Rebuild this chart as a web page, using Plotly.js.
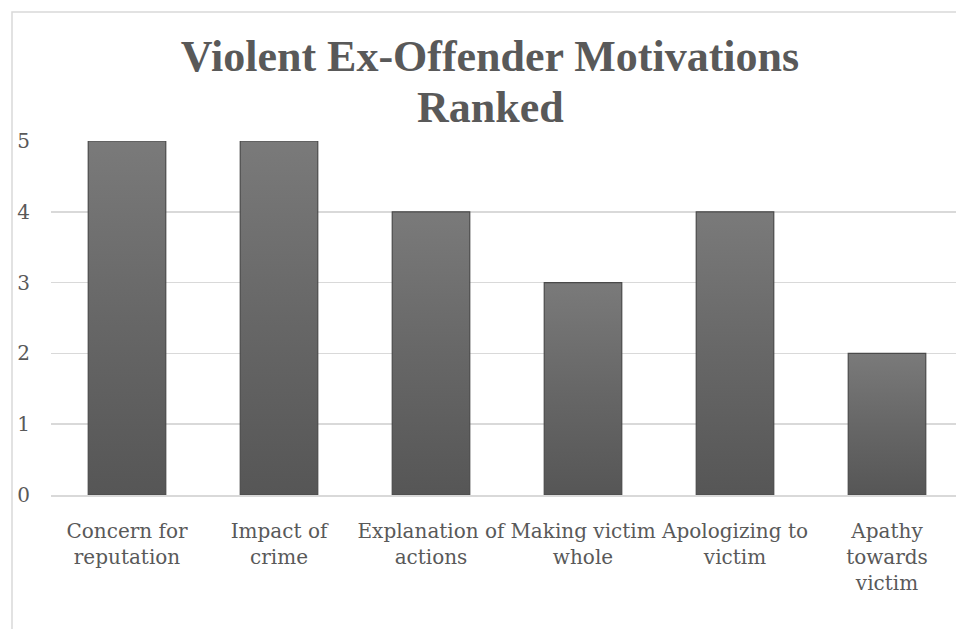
<!DOCTYPE html>
<html>
<head>
<meta charset="utf-8">
<script src="https://cdn.plot.ly/plotly-3.0.1.min.js"></script>
<style>html,body{margin:0;padding:0;background:#fff;overflow:hidden}</style>
</head>
<body>
<div id="chart" style="width:956px;height:629px"></div>
<script>
const categories = ["Concern for reputation", "Impact of crime", "Explanation of actions", "Making victim whole", "Apologizing to victim", "Apathy towards victim"];
const tickLabels = ["Concern for<br>reputation", "Impact of<br>crime", "Explanation of<br>actions", "Making victim<br>whole", "Apologizing to<br>victim", "Apathy<br>towards<br>victim"];
const rankValues = [5, 5, 4, 3, 4, 2];
const yTicks = [0, 1, 2, 3, 4, 5];
const titleLine1 = 'Violent Ex-Offender Motivations';
const titleLine2 = 'Ranked';

const W = 956, H = 629, L = 51, T = 141, B = 134;
const plotW = W - L, plotH = H - T - B;
const catStep = 152;
const titleFont = {family: 'Liberation Serif', size: 44, color: '#595959'};

const trace = {
  type: 'bar',
  x: categories,
  y: rankValues,
  marker: {color: '#676767', line: {color: '#4a4a4a', width: 1.2}},
  hoverinfo: 'none'
};

const layout = {
  width: W, height: H,
  margin: {l: L, r: 0, t: T, b: B, pad: 0},
  paper_bgcolor: '#ffffff',
  plot_bgcolor: '#ffffff',
  showlegend: false,
  bargap: 0.49,
  title: {
    text: '<b>' + titleLine1 + '</b>',
    font: titleFont,
    x: 490 / W, xref: 'container', xanchor: 'center',
    y: 1 - 71 / H, yref: 'container', yanchor: 'bottom'
  },
  annotations: [{
    text: '<b>' + titleLine2 + '</b>',
    font: titleFont,
    xref: 'paper', yref: 'paper',
    x: (490 - L) / plotW, xanchor: 'center',
    y: (H - B - 134) / plotH, yanchor: 'bottom',
    showarrow: false
  }],
  xaxis: {
    type: 'category',
    range: [-0.5, -0.5 + plotW / catStep],
    tickvals: categories,
    ticktext: tickLabels,
    tickfont: {family: 'DejaVu Serif', size: 20, color: '#595959'},
    ticks: '',
    ticklabelstandoff: 17,
    showgrid: false,
    showline: true, linecolor: '#d9d9d9', linewidth: 1.5,
    zeroline: false, fixedrange: true
  },
  yaxis: {
    range: [0, 5],
    tickvals: yTicks,
    tickfont: {family: 'DejaVu Serif', size: 20, color: '#595959'},
    ticks: '',
    ticklabelstandoff: 20,
    showgrid: true, gridcolor: '#d9d9d9', gridwidth: 1.5,
    zeroline: false, showline: false, fixedrange: true
  },
  shapes: [{
    type: 'rect', xref: 'paper', yref: 'paper',
    x0: (12 - L) / plotW, x1: 1.2,
    y0: (H - B - 12) / plotH, y1: -0.6,
    line: {color: '#d9d9d9', width: 1.5},
    fillcolor: 'rgba(0,0,0,0)', layer: 'below'
  }]
};

Plotly.newPlot('chart', [trace], layout, {displayModeBar: false, staticPlot: true}).then(function (gd) {
  const svg = gd.querySelector('svg.main-svg');
  const ns = 'http://www.w3.org/2000/svg';
  let defs = svg.querySelector('defs');
  if (!defs) { defs = document.createElementNS(ns, 'defs'); svg.insertBefore(defs, svg.firstChild); }
  function grad(id, x2, y2, stops) {
    const g = document.createElementNS(ns, 'linearGradient');
    g.setAttribute('id', id);
    g.setAttribute('x1', '0'); g.setAttribute('y1', '0');
    g.setAttribute('x2', x2); g.setAttribute('y2', y2);
    stops.forEach(function (s) {
      const st = document.createElementNS(ns, 'stop');
      st.setAttribute('offset', s[0]); st.setAttribute('stop-color', s[1]);
      g.appendChild(st);
    });
    defs.appendChild(g);
  }
  grad('barGradV', '0', '1', [['0', '#7a7a7a'], ['0.5', '#676767'], ['1', '#565656']]);
  gd.querySelectorAll('.barlayer .point path').forEach(function (p) {
    p.style.fill = 'url(#barGradV)';
  });
});
</script>
</body>
</html>
